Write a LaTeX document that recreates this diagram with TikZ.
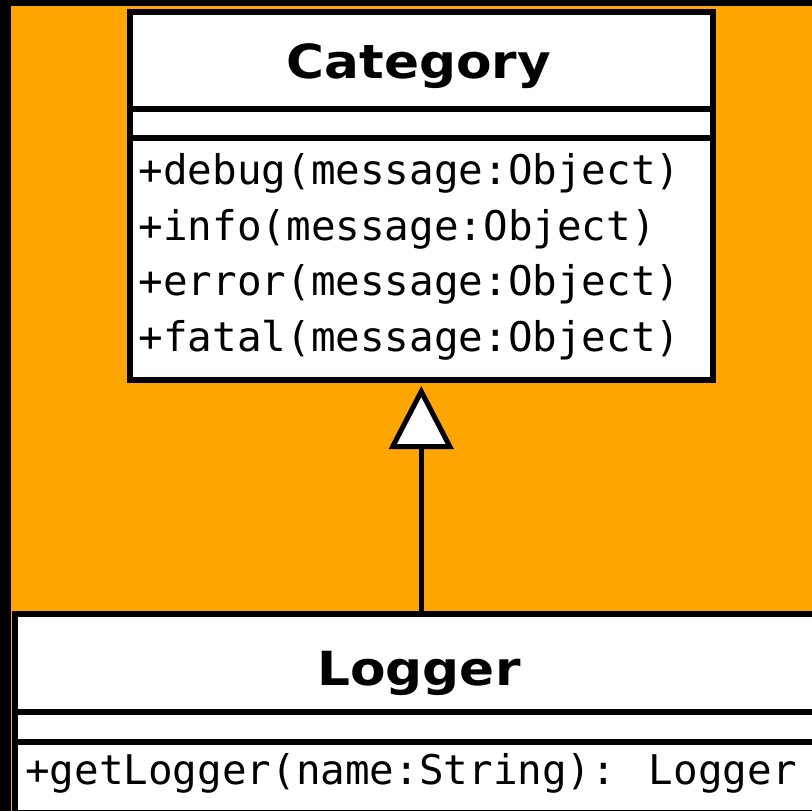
\documentclass[tikz,border=0pt]{standalone}
\usepackage{fontspec}
\usepackage{tikz}
\usetikzlibrary{arrows.meta}

\newfontfamily\umlhead{DejaVu Sans}[FakeStretch=1.1]
\newfontfamily\umlmono{DejaVu Sans Mono}
\definecolor{umlorange}{RGB}{255,165,0}

\begin{document}
\begin{tikzpicture}[x=1pt,y=1pt,yscale=-1,
  classbox/.style={draw=black, fill=white, line width=6pt, rectangle, inner sep=0pt, outer sep=0pt},
  headtext/.style={anchor=base, inner sep=0pt, font=\umlhead\bfseries\fontsize{47}{56}\selectfont},
  optext/.style={anchor=base west, inner sep=0pt, font=\umlmono\fontsize{40.9}{56}\selectfont},
  inherit/.style={line width=5pt, -{Triangle[length=63pt 0, width=64pt 0, fill=white]}}]
\useasboundingbox (0,0) rectangle (812,811);
\clip (0,0) rectangle (812,811);

%Background: frame and canvas
\fill [black] (0,0) rectangle (812,811);
\fill [umlorange] (11,6) rectangle (812,811);

%Class: Category
\node [classbox, minimum width=583.5pt, minimum height=97.5pt] (cathead) at (421.25,60.25) {};
\node [classbox, minimum width=583.5pt, minimum height=29pt] (catattr) at (421.25,123.5) {};
\node [classbox, minimum width=583.5pt, minimum height=242pt] (catops) at (421.25,259) {};
\node [headtext] (catname) at (419,78) {Category};
\node [optext] (debug) at (138.5,184.5) {+debug(message:Object)};
\node [optext] (info) at (138.5,240.2) {+info(message:Object)};
\node [optext] (error) at (138.5,295.9) {+error(message:Object)};
\node [optext] (fatal) at (138.5,351.6) {+fatal(message:Object)};

%Class: Logger (runs off the right edge)
\node [classbox, minimum width=815pt, minimum height=98pt] (loghead) at (422.5,663) {};
\node [classbox, minimum width=815pt, minimum height=30pt] (logattr) at (422.5,727) {};
\node [classbox, minimum width=815pt, minimum height=70.5pt] (logops) at (422.5,777.25) {};
\node [headtext] (logname) at (419,685) {Logger};
\node [optext] (getlogger) at (25,784) {+getLogger(name:String): Logger};

%Generalization: Logger -> Category
\draw [inherit, shorten >=6pt] (loghead.north -| catops.south) -- (catops.south);

\end{tikzpicture}
\end{document}
